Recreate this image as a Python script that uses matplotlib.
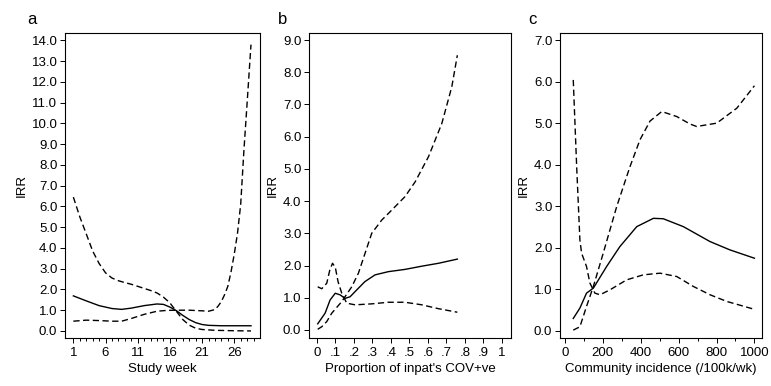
import matplotlib.pyplot as plt
import numpy as np

plt.rcParams['font.family'] = ['Liberation Sans', 'DejaVu Sans']
plt.rcParams['font.size'] = 9.5

# panel a: study week
week = [1, 3, 5, 7, 8.5, 10, 12, 14, 15, 16, 17, 18, 19, 20, 21, 22, 24, 28.6]
week_irr = [1.69, 1.45, 1.22, 1.08, 1.04, 1.10, 1.22, 1.30, 1.28, 1.15, 0.98,
            0.75, 0.55, 0.40, 0.31, 0.27, 0.25, 0.25]
week_up = [1, 2, 3, 4, 5, 6, 7, 8, 9, 10, 11, 12, 13, 14, 15, 16, 17, 18, 19,
           20, 21, 23, 26, 28.6]
week_up_val = [6.45, 5.5, 4.68, 3.85, 3.25, 2.8, 2.55, 2.42, 2.33, 2.25, 2.15,
               2.05, 1.95, 1.83, 1.63, 1.35, 0.95, 0.55, 0.28, 0.13, 0.07,
               0.03, 0.01, 0.0]
week_lo = [1, 3, 5, 7, 8.5, 10, 12, 14, 15.5, 17, 19, 21, 22, 23, 23.5, 24,
           24.5, 25, 25.5, 26, 26.5, 27, 27.5, 28, 28.3, 28.6]
week_lo_val = [0.47, 0.52, 0.50, 0.47, 0.47, 0.6, 0.8, 0.95, 0.99, 1.0, 1.0,
               0.97, 0.95, 1.03, 1.2, 1.42, 1.75, 2.15, 2.85, 3.7, 4.7, 6.1,
               8.7, 11.0, 12.4, 13.8]

# panel b: proportion of inpatients COVID positive
prop = [0.005, 0.045, 0.072, 0.1, 0.126, 0.153, 0.18, 0.207, 0.26, 0.315,
        0.387, 0.477, 0.568, 0.658, 0.76]
prop_irr = [0.19, 0.52, 0.93, 1.14, 1.09, 0.98, 1.03, 1.19, 1.5, 1.71, 1.81,
            1.88, 1.98, 2.07, 2.2]
prop_a = [0.005, 0.027, 0.054, 0.07, 0.085, 0.1, 0.115, 0.135, 0.162, 0.207,
          0.297, 0.387, 0.477, 0.568, 0.658, 0.76]
prop_a_val = [1.34, 1.28, 1.45, 1.85, 2.07, 1.95, 1.5, 1.14, 0.83, 0.78, 0.81,
              0.86, 0.86, 0.78, 0.66, 0.55]
prop_b = [0.005, 0.027, 0.054, 0.081, 0.135, 0.189, 0.225, 0.261, 0.297,
          0.351, 0.405, 0.477, 0.532, 0.604, 0.676, 0.73, 0.76]
prop_b_val = [0.02, 0.10, 0.26, 0.52, 0.88, 1.34, 1.76, 2.38, 3.0, 3.41, 3.72,
              4.14, 4.6, 5.38, 6.41, 7.55, 8.53]

# panel c: community incidence
inc = [44, 79, 114, 150, 220, 290, 379, 467, 519, 625, 766, 871, 1000]
inc_irr = [0.30, 0.55, 0.91, 1.03, 1.55, 2.03, 2.51, 2.71, 2.70, 2.51, 2.15,
           1.95, 1.75]
inc_a = [44, 62, 79, 88, 114, 132, 158, 185, 238, 326, 414, 502, 590, 678,
         766, 854, 1000]
inc_a_val = [6.04, 3.95, 2.19, 1.87, 1.55, 1.15, 0.91, 0.87, 0.99, 1.23, 1.35,
             1.39, 1.31, 1.07, 0.87, 0.71, 0.52]
inc_b = [44, 79, 114, 150, 202, 273, 343, 396, 449, 511, 590, 660, 695, 801,
         907, 1000]
inc_b_val = [0.02, 0.10, 0.59, 1.07, 1.87, 2.99, 3.95, 4.60, 5.05, 5.28, 5.16,
             4.98, 4.92, 5.0, 5.36, 5.9]

W, H = 771, 386
fig = plt.figure(figsize=(W / 100, H / 100), dpi=100)


def box(x0, x1, y0=33, y1=338):
    return [x0 / W, 1 - y1 / H, (x1 - x0) / W, (y1 - y0) / H]


axa = fig.add_axes(box(65, 260))
axb = fig.add_axes(box(309, 511))
axc = fig.add_axes(box(560, 762))

dash = dict(color='black', lw=1.0, dashes=(4.5, 2.5))
solid = dict(color='black', lw=1.0)

axa.plot(week, week_irr, **solid)
axa.plot(week_up, week_up_val, **dash)
axa.plot(week_lo, week_lo_val, **dash)
axa.set_xlim(-0.3, 30)
axa.set_ylim(-0.34, 14.36)
axa.set_xticks([1, 6, 11, 16, 21, 26])
axa.set_xticks(range(1, 30), minor=True)
axa.set_yticks(np.arange(0, 15))
axa.set_xlabel('Study week')

axb.plot(prop, prop_irr, **solid)
axb.plot(prop_a, prop_a_val, **dash)
axb.plot(prop_b, prop_b_val, **dash)
axb.set_xlim(-0.042, 1.05)
axb.set_ylim(-0.25, 9.22)
bt = [i / 10 for i in range(11)]
axb.set_xticks(bt)
axb.set_xticklabels(['0', '.1', '.2', '.3', '.4', '.5', '.6', '.7', '.8', '.9', '1'])
axb.set_yticks(np.arange(0, 10))
axb.set_xlabel("Proportion of inpat's COV+ve")

axc.plot(inc, inc_irr, **solid)
axc.plot(inc_a, inc_a_val, **dash)
axc.plot(inc_b, inc_b_val, **dash)
axc.set_xlim(-26, 1040)
axc.set_ylim(-0.17, 7.17)
axc.set_xticks([0, 200, 400, 600, 800, 1000])
axc.set_xticks([100, 300, 500, 700, 900], minor=True)
axc.set_yticks(np.arange(0, 8))
axc.set_xlabel('Community incidence (/100k/wk)')

for ax in (axa, axb, axc):
    ax.set_ylabel('IRR', labelpad=3)
    ax.yaxis.set_major_formatter(plt.FormatStrFormatter('%.1f'))
    ax.tick_params(which='major', length=3.5, width=0.7, pad=2, direction='out')
    ax.tick_params(axis='x', which='major', pad=3)
    ax.tick_params(which='minor', length=2, width=0.7, direction='out')
    ax.xaxis.labelpad = 3
    for s in ax.spines.values():
        s.set_linewidth(0.8)

fig.text(27 / W, 1 - 24 / H, 'a', fontsize=12)
fig.text(278 / W, 1 - 24 / H, 'b', fontsize=12)
fig.text(528 / W, 1 - 24 / H, 'c', fontsize=12)

fig.savefig('out.png', dpi=100)
